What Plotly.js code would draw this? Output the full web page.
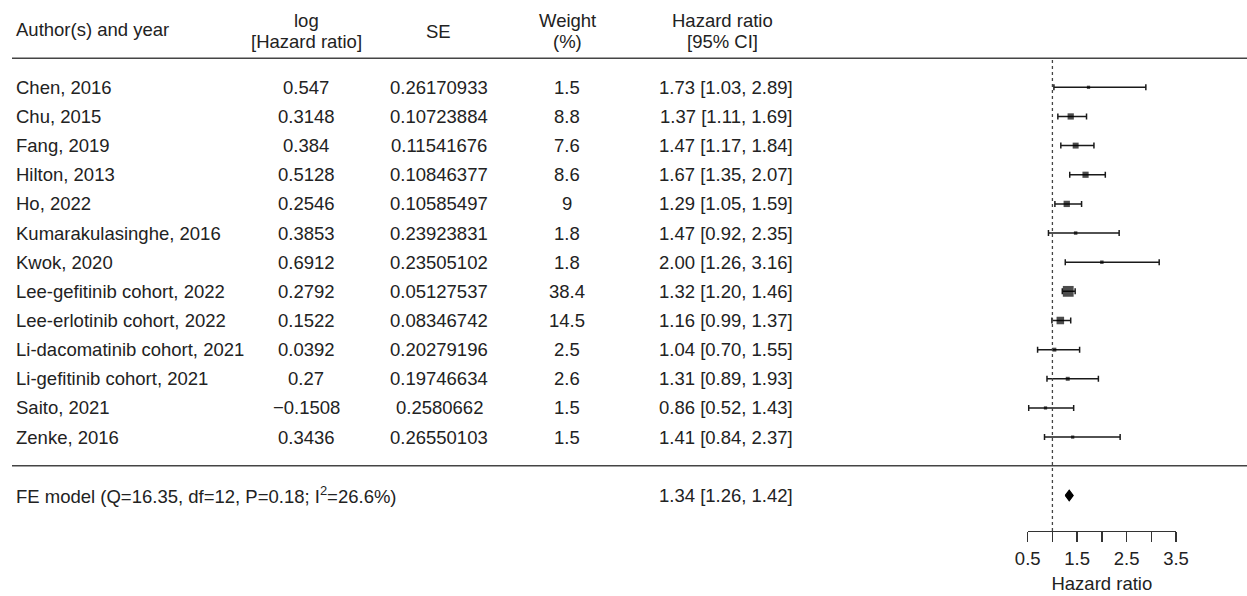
<!DOCTYPE html>
<html>
<head>
<meta charset="utf-8">
<script src="https://cdn.plot.ly/plotly-3.0.1.min.js"></script>
<style>html,body{margin:0;padding:0;background:#fff;}#chart{width:1247px;height:596px;}</style>
</head>
<body>
<div id="chart"></div>
<script>
// ---- data ----
const authors = ["Chen, 2016","Chu, 2015","Fang, 2019","Hilton, 2013","Ho, 2022","Kumarakulasinghe, 2016","Kwok, 2020","Lee-gefitinib cohort, 2022","Lee-erlotinib cohort, 2022","Li-dacomatinib cohort, 2021","Li-gefitinib cohort, 2021","Saito, 2021","Zenke, 2016"];
const logHR = [0.547,0.3148,0.384,0.5128,0.2546,0.3853,0.6912,0.2792,0.1522,0.0392,0.27,-0.1508,0.3436];
const se = ["0.26170933","0.10723884","0.11541676","0.10846377","0.10585497","0.23923831","0.23505102","0.05127537","0.08346742","0.20279196","0.19746634","0.2580662","0.26550103"];
const weight = [1.5,8.8,7.6,8.6,9,1.8,1.8,38.4,14.5,2.5,2.6,1.5,1.5];
const hr = [1.73,1.37,1.47,1.67,1.29,1.47,2.00,1.32,1.16,1.04,1.31,0.86,1.41];
const lo = [1.03,1.11,1.17,1.35,1.05,0.92,1.26,1.20,0.99,0.70,0.89,0.52,0.84];
const hi = [2.89,1.69,1.84,2.07,1.59,2.35,3.16,1.46,1.37,1.55,1.93,1.43,2.37];
const feLabel = "FE model (Q=16.35, df=12, P=0.18; I<sup>2</sup>=26.6%)";
const feHR = 1.34, feLo = 1.26, feHi = 1.42;
const tickVals = [0.5,1.5,2.5,3.5];
const tickText = ["0.5","1.5","2.5","3.5"];

// ---- layout helpers ----
const W = 1247, H = 596;
const ROW0 = 87.3, ROWH = 29.15;
const FS = 18.5;
const px = x => x / W;
const py = y => 1 - y / H;
const rows = authors.map((_, i) => i);
const feRow = authors.length + 1;
const FONT = "Liberation Sans, Arial, Helvetica, sans-serif";
const TXT = "#222";
const fmtNum = v => v < 0 ? "\u2212" + String(Math.abs(v)) : String(v);

const annotations = [];
function ann(text, x, y, xanchor, yref) {
  annotations.push({text: text, x: px(x), xref: "paper", y: y, yref: yref || "y",
    xanchor: xanchor, yanchor: "middle", showarrow: false,
    font: {family: FONT, size: FS, color: TXT}});
}
// headers
ann("Author(s) and year", 14, py(30), "left", "paper");
ann("log", 306, py(21), "center", "paper");
ann("[Hazard ratio]", 306, py(42), "center", "paper");
ann("SE", 438, py(31), "center", "paper");
ann("Weight", 567, py(21), "center", "paper");
ann("(%)", 567, py(42), "center", "paper");
ann("Hazard ratio", 723, py(21), "center", "paper");
ann("[95% CI]", 723, py(42), "center", "paper");
// rows
authors.forEach((a, i) => {
  ann(a, 14, i, "left");
  ann(fmtNum(logHR[i]), 306, i, "center");
  ann(se[i], 439, i, "center");
  ann(String(weight[i]), 567, i, "center");
  ann(hr[i].toFixed(2) + " [" + lo[i].toFixed(2) + ", " + hi[i].toFixed(2) + "]", 726, i, "center");
});
ann(feLabel, 14, feRow, "left");
ann(feHR.toFixed(2) + " [" + feLo.toFixed(2) + ", " + feHi.toFixed(2) + "]", 726, feRow, "center");

const traces = [
  {
    type: "scatter", mode: "markers", x: hr, y: rows, cliponaxis: false,
    marker: {symbol: "square", color: "#000", size: weight.map(w => 2.8 * Math.pow(w, 0.37)), line: {width: 0}},
    error_x: {type: "data", symmetric: false,
      array: hi.map((h, i) => h - hr[i]), arrayminus: lo.map((l, i) => hr[i] - l),
      color: "#1a1a1a", thickness: 1.5, width: 3},
    hoverinfo: "skip", showlegend: false
  },
  {
    type: "scatter", mode: "lines", fill: "toself", fillcolor: "#000", cliponaxis: false,
    x: [feLo, feHR, feHi, feHR, feLo],
    y: [feRow, feRow - 0.18, feRow, feRow + 0.18, feRow],
    line: {color: "#000", width: 1.2}, hoverinfo: "skip", showlegend: false
  }
];

const layout = {
  width: W, height: H,
  margin: {l: 0, r: 0, t: 0, b: 0},
  paper_bgcolor: "#fff", plot_bgcolor: "rgba(0,0,0,0)",
  font: {family: FONT, size: FS, color: TXT},
  xaxis: {
    domain: [px(1027.7), px(1176)], range: [0.5, 3.5],
    anchor: "free", position: py(531),
    showgrid: false, zeroline: false, showline: true, linecolor: "#333", linewidth: 1.4,
    ticks: "outside", ticklen: 10, tickwidth: 1.4, tickcolor: "#333",
    tickvals: tickVals, ticktext: tickText,
    minor: {tick0: 0.5, dtick: 0.5, ticks: "outside", ticklen: 10, tickwidth: 1.4, tickcolor: "#333", showgrid: false},
    tickfont: {family: FONT, size: FS, color: TXT},
    title: {text: "Hazard ratio", font: {family: FONT, size: FS, color: TXT}, standoff: 9},
    fixedrange: true
  },
  yaxis: {
    domain: [0, 1], range: [(H - ROW0) / ROWH, -ROW0 / ROWH],
    showgrid: false, zeroline: false, showline: false, showticklabels: false, ticks: "",
    fixedrange: true
  },
  shapes: [
    {type: "line", xref: "paper", yref: "paper", x0: px(12), x1: 1, y0: py(58.3), y1: py(58.3), line: {color: "#444", width: 1.5}},
    {type: "line", xref: "paper", yref: "paper", x0: px(12), x1: 1, y0: py(465.7), y1: py(465.7), line: {color: "#444", width: 1.5}},
    {type: "line", xref: "x", yref: "paper", x0: 1, x1: 1, y0: py(60), y1: py(531), line: {color: "#444", width: 1.3, dash: "dot"}}
  ],
  annotations: annotations
};

Plotly.newPlot("chart", traces, layout, {displayModeBar: false, staticPlot: true});
</script>
</body>
</html>
